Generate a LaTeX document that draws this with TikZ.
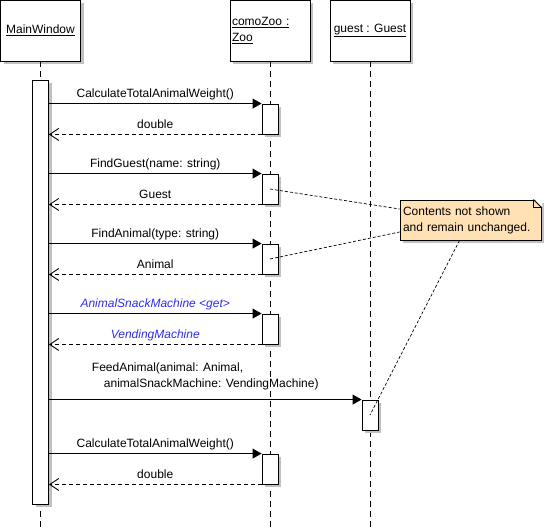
\documentclass[tikz,border=0pt]{standalone}
\usepackage{fontspec}
\setmainfont{Liberation Sans}
\usetikzlibrary{arrows.meta, shadows}
\definecolor{mNote}{HTML}{FFE1B4}
\definecolor{mShadow}{HTML}{C0C0C0}
\definecolor{mBlue}{HTML}{2B2BFF}

\begin{document}
\begin{tikzpicture}[
  x=1pt, y=-1pt, line width=0.9pt,
  font=\fontsize{12}{16}\selectfont,
  boxshadow/.style={drop shadow={shadow xshift=3pt, shadow yshift=-3pt,
                    fill=mShadow, opacity=1}},
  head/.style={draw, fill=white, minimum width=80pt, minimum height=61pt,
               inner sep=2pt, boxshadow},
  activation/.style={draw, fill=white, minimum width=16pt, minimum height=30pt,
                     inner sep=0pt, boxshadow},
  lifeline/.style={dash pattern=on 6pt off 4pt},
  call/.style={-{Triangle[length=9pt, width=10pt]}},
  reply/.style={dash pattern=on 4pt off 3pt, -{Straight Barb[length=9pt, width=12pt]}},
  msg/.style={anchor=base, yshift=6pt, inner sep=0pt},
  getter/.style={msg, text=mBlue, font=\fontsize{12}{16}\selectfont\itshape},
  notelink/.style={line width=0.7pt, dash pattern=on 3pt off 2pt},
]
  \useasboundingbox (0,0) rectangle (545,529);

  % lifelines
  \coordinate (mwend) at (40.5,529);
  \coordinate (zooend) at (270,529);
  \coordinate (guestend) at (370,529);
  \node[head] (mainwin) at (40.5,30.5) {\underline{MainWindow}};
  \node[head, text width=76pt, align=left] (comozoo) at (270,30.5)
    {\underline{comoZoo :}\\\underline{Zoo}};
  \node[head] (guest) at (370,30.5) {\underline{guest : Guest}};
  \draw[lifeline] (mainwin.south) -- (mwend);
  \draw[lifeline] (comozoo.south) -- (zooend);
  \draw[lifeline] (guest.south) -- (guestend);

  % activations
  \node[activation, minimum height=424pt] (mwact) at (40.5,292) {};
  \node[activation] (za1) at (270,119) {};
  \node[activation] (za2) at (270,189) {};
  \node[activation] (za3) at (270,259) {};
  \node[activation] (za4) at (270,329) {};
  \node[activation] (ga5) at (370,415) {};
  \node[activation] (za6) at (270,469) {};

  % messages
  \draw[call] (mwact.east |- za1.north) -- node[msg] (m1) {CalculateTotalAnimalWeight()} (za1.north west);
  \draw[reply] (za1.south west) -- node[msg] (r1) {double} (mwact.east |- za1.south);
  \draw[call] (mwact.east |- za2.north) -- node[msg] (m2) {FindGuest(name: string)} (za2.north west);
  \draw[reply] (za2.south west) -- node[msg] (r2) {Guest} (mwact.east |- za2.south);
  \draw[call] (mwact.east |- za3.north) -- node[msg] (m3) {FindAnimal(type: string)} (za3.north west);
  \draw[reply] (za3.south west) -- node[msg] (r3) {Animal} (mwact.east |- za3.south);
  \draw[call] (mwact.east |- za4.north) -- node[getter] (m4) {AnimalSnackMachine <get>} (za4.north west);
  \draw[reply] (za4.south west) -- node[getter] (r4) {VendingMachine} (mwact.east |- za4.south);
  \draw[call] (mwact.east |- ga5.north) -- node[msg, anchor=south, yshift=3.5pt, align=left] (m5)
    {FeedAnimal(animal: Animal,\\\hspace{12pt}animalSnackMachine: VendingMachine)} (ga5.north west);
  \draw[call] (mwact.east |- za6.north) -- node[msg] (m6) {CalculateTotalAnimalWeight()} (za6.north west);
  \draw[reply] (za6.south west) -- node[msg] (r6) {double} (mwact.east |- za6.south);

  % note
  \node[draw, fill=mNote, boxshadow, minimum width=141pt, minimum height=40pt,
        text width=135pt, inner sep=3pt, align=left] (note) at (470.5,220)
    {Contents not shown\\and remain unchanged.};
  \fill[white] ([xshift=-8pt, yshift=1pt]note.north east) -- ([xshift=1pt, yshift=1pt]note.north east)
    -- ([xshift=1pt, yshift=-8pt]note.north east) -- cycle;
  \draw ([xshift=-8pt]note.north east) -- ([yshift=-8pt]note.north east);
  \draw[line width=0.6pt] ([xshift=-8pt]note.north east) |- ([yshift=-8pt]note.north east);
  \draw[notelink] (za2.center) -- ([yshift=11pt]note.west);
  \draw[notelink] (za3.center) -- ([yshift=-12pt]note.west);
  \draw[notelink] ([xshift=-11pt]note.south) -- (ga5.center);
\end{tikzpicture}
\end{document}
